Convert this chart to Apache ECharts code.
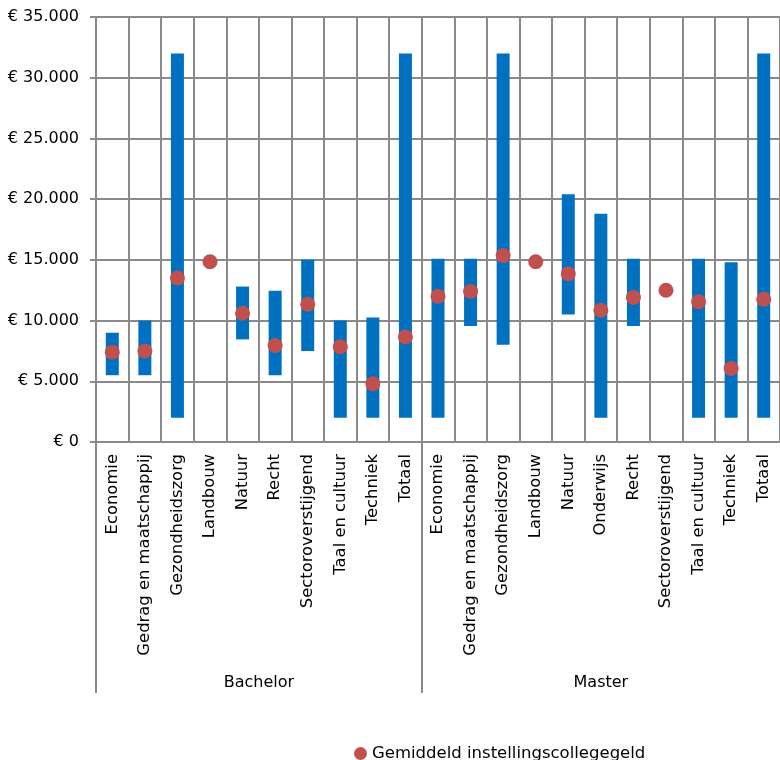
<!DOCTYPE html>
<html>
<head>
<meta charset="utf-8">
<script src="https://cdn.jsdelivr.net/npm/echarts@6/dist/echarts.min.js"></script>
<style>html,body{margin:0;padding:0;background:#fff}#c{width:780px;height:760px}</style>
</head>
<body>
<div id="c"></div>
<script>
var groupNames = ['Bachelor', 'Master'];
var bachelorCats = ['Economie','Gedrag en maatschappij','Gezondheidszorg','Landbouw','Natuur','Recht','Sectoroverstijgend','Taal en cultuur','Techniek','Totaal'];
var masterCats = ['Economie','Gedrag en maatschappij','Gezondheidszorg','Landbouw','Natuur','Onderwijs','Recht','Sectoroverstijgend','Taal en cultuur','Techniek','Totaal'];
var bachelorMin = [5500, 5500, 2000, null, 8450, 5500, 7500, 2000, 2000, 2000];
var bachelorMax = [9000, 10000, 32000, null, 12800, 12450, 15000, 10000, 10250, 32000];
var bachelorMean = [7400, 7500, 13500, 14850, 10600, 7950, 11350, 7850, 4800, 8650];
var masterMin = [2000, 9550, 8000, null, 10500, 2000, 9550, null, 2000, 2000, 2000];
var masterMax = [15100, 15100, 32000, null, 20400, 18800, 15100, null, 15100, 14800, 32000];
var masterMean = [12000, 12400, 15350, 14850, 13850, 10850, 11900, 12500, 11550, 6050, 11750];
var yTicks = [0, 5000, 10000, 15000, 20000, 25000, 30000, 35000];
var seriesName = 'Gemiddeld instellingscollegegeld';

var categories = bachelorCats.concat(masterCats);
var mins = bachelorMin.concat(masterMin);
var maxs = bachelorMax.concat(masterMax);
var means = bachelorMean.concat(masterMean);
var groupSizes = [bachelorCats.length, masterCats.length];
var total = categories.length;

var rangeData = [];
for (var i = 0; i < total; i++) {
  if (mins[i] != null && maxs[i] != null) rangeData.push([i, mins[i], maxs[i]]);
}
var groupCenters = [], groupStarts = [];
var acc = 0;
for (var g = 0; g < groupSizes.length; g++) {
  groupStarts.push(acc);
  groupCenters.push(acc + groupSizes[g] / 2);
  acc += groupSizes[g];
}

function fmt(v) {
  var s = String(Math.round(v));
  return '€ ' + s.replace(/\B(?=(\d{3})+(?!\d))/g, '.');
}

var gray = '#8a8a8a';
var font = 'DejaVu Sans';
var chart = echarts.init(document.getElementById('c'), null, {renderer: 'canvas'});
chart.setOption({
  animation: false,
  textStyle: {fontFamily: font},
  grid: {left: 96, right: -6, top: 17, bottom: 318, containLabel: false},
  legend: {
    data: [{name: seriesName, icon: 'circle'}],
    left: 349, top: 740,
    itemWidth: 13, itemHeight: 13, itemGap: 2,
    textStyle: {fontFamily: font, fontSize: 16.5, color: '#000'}
  },
  xAxis: [{
    type: 'category',
    data: categories,
    boundaryGap: true,
    axisLine: {show: true, lineStyle: {color: gray, width: 2}},
    axisTick: {show: false},
    splitLine: {show: true, interval: 0, lineStyle: {color: gray, width: 2}},
    axisLabel: {interval: 0, rotate: 90, margin: 12, fontSize: 16.4, color: '#000', fontFamily: font}
  }, {
    type: 'value',
    position: 'bottom',
    offset: 251,
    min: 0, max: total,
    axisLine: {show: false},
    splitLine: {show: false},
    axisTick: {show: true, inside: true, length: 251, customValues: groupStarts, lineStyle: {color: gray, width: 2}},
    axisLabel: {
      show: true, inside: true, margin: 2, fontSize: 16, color: '#000', fontFamily: font,
      customValues: groupCenters,
      formatter: function (v) {
        for (var k = 0; k < groupCenters.length; k++) if (Math.abs(groupCenters[k] - v) < 1e-6) return groupNames[k];
        return '';
      }
    }
  }],
  yAxis: {
    type: 'value',
    min: yTicks[0], max: yTicks[yTicks.length - 1], interval: yTicks[1] - yTicks[0],
    axisLine: {show: true, lineStyle: {color: gray, width: 2}},
    axisTick: {show: true, length: 6, lineStyle: {color: gray, width: 2}},
    splitLine: {show: true, lineStyle: {color: gray, width: 2}},
    axisLabel: {formatter: fmt, margin: 17, fontSize: 16, color: '#000', fontFamily: font}
  },
  series: [{
    type: 'custom',
    name: 'range',
    xAxisIndex: 0,
    encode: {x: 0, y: [1, 2]},
    data: rangeData,
    renderItem: function (params, api) {
      var lo = api.coord([api.value(0), api.value(1)]);
      var hi = api.coord([api.value(0), api.value(2)]);
      var w = 13;
      return {
        type: 'rect',
        shape: {x: lo[0] - w / 2, y: hi[1], width: w, height: lo[1] - hi[1]},
        style: {fill: '#0070C0'}
      };
    },
    z: 2
  }, {
    type: 'scatter',
    name: seriesName,
    xAxisIndex: 0,
    data: means,
    symbol: 'circle',
    symbolSize: 15,
    itemStyle: {color: '#C0504D', opacity: 1},
    z: 3
  }]
});
</script>
</body>
</html>
